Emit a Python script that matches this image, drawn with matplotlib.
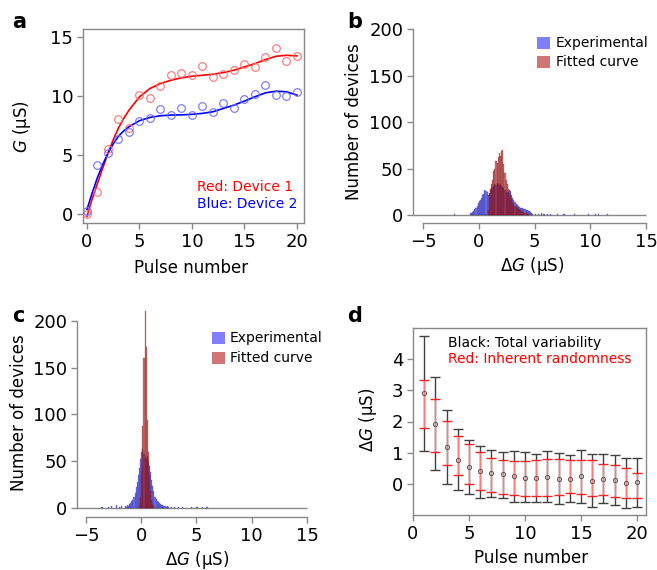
import numpy as np
import matplotlib.pyplot as plt
from matplotlib.patches import Rectangle

# --- panel a: conductance vs pulse number ---
pulse_a = list(range(21))
g_dev1 = [0.0, 1.9, 5.5, 8.05, 7.26, 10.08, 9.85, 10.84, 11.76, 11.96, 11.76,
          12.55, 11.62, 11.9, 12.24, 12.69, 12.47, 13.31, 14.1, 12.97, 13.37]
g_dev2 = [0.23, 4.17, 5.15, 6.33, 6.98, 7.91, 8.16, 8.87, 8.39, 8.95, 8.39,
          9.15, 8.67, 9.37, 9.0, 9.71, 10.2, 10.92, 10.08, 10.02, 10.3]
fit_x = [0, 0.5, 1, 1.5, 2, 2.5, 3, 3.5, 4, 5, 6, 7, 8, 9, 10, 11, 12, 13, 14,
         15, 16, 17, 18, 19, 20]
fit_dev1 = [-0.2, 1.3, 2.6, 3.9, 5.15, 6.3, 7.3, 8.1, 8.8, 9.93, 10.64, 11.06,
            11.34, 11.54, 11.68, 11.76, 11.85, 11.99, 12.19, 12.47, 12.75,
            13.09, 13.37, 13.45, 13.4]
fit_dev2 = [0.4, 1.8, 3.1, 4.2, 5.15, 5.95, 6.6, 7.05, 7.4, 7.91, 8.19, 8.33,
            8.39, 8.4, 8.45, 8.53, 8.67, 8.95, 9.23, 9.57, 9.94, 10.27, 10.41,
            10.36, 10.08]

# --- panel b: histogram of delta G (bins 0.1 uS) ---
b_exp_edges = np.round(np.arange(-0.8, 4.85, 0.1), 1)
b_exp_counts = [2, 2, 3, 4, 6, 8, 10, 13, 15, 16, 18, 21, 23, 27, 26, 25, 22,
                24, 27, 29, 30, 31, 33, 32, 34, 33, 32, 33, 31, 30, 29, 27, 25,
                24, 25, 27, 26, 21, 18, 16, 14, 12, 11, 10, 9, 8, 8, 7, 6, 6,
                5, 5, 4, 4, 3, 2, 1]
b_exp_tail_x = [-2.2, 5.0, 5.3, 5.6, 5.8, 6.1, 6.4, 7.0, 7.6, 8.5, 9.8, 10.4,
                10.7, 11.5]
b_exp_tail = [1, 1, 1, 2, 1, 1, 1, 1, 1, 1, 1, 1, 1, 1]
b_fit_edges = np.round(np.arange(0.8, 4.45, 0.1), 1)
b_fit_counts = [5, 22, 28, 33, 38, 47, 50, 58, 56, 62, 67, 63, 69, 70, 55, 45,
                38, 33, 28, 24, 20, 17, 14, 12, 10, 9, 8, 6, 5, 5, 4, 3, 3, 2,
                2, 1, 1]

# --- panel c ---
c_exp_edges = np.round(np.arange(-1.5, 2.45, 0.1), 1)
c_exp_counts = [2, 1, 3, 2, 4, 5, 7, 9, 12, 16, 22, 28, 35, 43, 52, 60, 63, 58,
                55, 52, 56, 50, 45, 38, 30, 24, 18, 12, 10, 8, 6, 5, 4, 3, 3,
                2, 2, 1, 2, 1]
c_exp_tail_x = [-3.6, -3.0, -2.7, -2.3, -2.0, -1.8, 2.7, 3.0, 3.3, 3.7, 4.5,
                5.0, 5.5, 5.9]
c_exp_tail = [1, 1, 2, 3, 1, 2, 1, 1, 1, 1, 1, 1, 1, 1]
c_fit_edges = np.round(np.arange(-0.2, 1.15, 0.1), 1)
c_fit_counts = [3, 12, 40, 88, 160, 210, 172, 94, 60, 35, 18, 9, 4, 2]

# --- panel d: variability vs pulse number ---
pulse_d = list(range(1, 21))
dg_mean = [2.9, 1.93, 1.18, 0.77, 0.55, 0.40, 0.34, 0.31, 0.24, 0.20, 0.20,
           0.22, 0.17, 0.15, 0.24, 0.10, 0.16, 0.11, 0.03, 0.06]
total_hi = [4.75, 3.42, 2.37, 1.75, 1.41, 1.22, 1.07, 1.02, 1.04, 1.01, 0.96,
            1.05, 0.99, 0.92, 1.07, 0.95, 0.95, 0.92, 0.82, 0.84]
total_lo = [1.04, 0.45, 0.0, -0.19, -0.33, -0.44, -0.41, -0.44, -0.57, -0.59,
            -0.58, -0.59, -0.65, -0.59, -0.60, -0.74, -0.62, -0.67, -0.77,
            -0.74]
rand_hi = [3.33, 2.72, 2.03, 1.54, 1.27, 1.03, 0.84, 0.76, 0.74, 0.73, 0.75,
           0.81, 0.80, 0.76, 0.78, 0.76, 0.65, 0.59, 0.52, 0.36]
rand_lo = [1.78, 1.02, 0.62, 0.29, -0.01, -0.19, -0.26, -0.32, -0.36, -0.39,
           -0.39, -0.39, -0.36, -0.30, -0.34, -0.40, -0.37, -0.41, -0.47,
           -0.46]

W, H = 657, 570
GRIS = "#888888"
AZUL = (0.0, 0.0, 1.0, 0.5)
ROJO = (0.7, 0.1, 0.1, 0.6)

plt.rcParams['font.size'] = 12
plt.rcParams['xtick.labelsize'] = 13
plt.rcParams['ytick.labelsize'] = 13


def caja(x0, y0, x1, y1):
    # pixeles (origen arriba-izquierda) -> fraccion de figura
    return [x0 / W, 1 - y1 / H, (x1 - x0) / W, (y1 - y0) / H]


def estilo(ax):
    for s in ax.spines.values():
        s.set_color(GRIS)
        s.set_linewidth(1)
    ax.tick_params(color=GRIS, length=4, width=1, pad=3)


fig = plt.figure(figsize=(W / 100, H / 100), dpi=100)

# ---------------- a ----------------
ax = fig.add_axes(caja(83, 29, 304, 223))
estilo(ax)
ax.plot(fit_x, fit_dev1, color="#ff0000", lw=1.2)
ax.plot(fit_x, fit_dev2, color="#0000ff", lw=1.2)
ax.plot(pulse_a, g_dev1, 'o', mfc='none', mec="#ff7070", ms=5.5, mew=0.8)
ax.plot(pulse_a, g_dev2, 'o', mfc='none', mec="#7070ff", ms=5.5, mew=0.8)
ax.set_xlim(-0.38, 20.67)
ax.set_ylim(-0.76, 15.68)
ax.set_xticks([0, 5, 10, 15, 20])
ax.set_yticks([0, 5, 10, 15])
ax.text(10.45, 2.29, "Red: Device 1", color="#ff0000", fontsize=10, va='center')
ax.text(10.45, 0.85, "Blue: Device 2", color="#0000ff", fontsize=10, va='center')
ax.set_xlabel("Pulse number")
ax.set_ylabel("$G$ (μS)")
ax.xaxis.set_label_coords(0.49, -0.186)
ax.yaxis.set_label_coords(-0.226, 0.495)


def histograma(ax, exp_edges, exp_counts, tail_x, tail, fit_edges, fit_counts):
    ax.bar(exp_edges, exp_counts, width=0.1, align='edge', color=AZUL,
           edgecolor=(0.1, 0.1, 0.4, 0.5), linewidth=0.3)
    ax.bar(tail_x, tail, width=0.1, align='edge', color=AZUL,
           edgecolor=(0.1, 0.1, 0.4, 0.5), linewidth=0.3)
    ax.bar(fit_edges, fit_counts, width=0.1, align='edge', color=ROJO,
           edgecolor=(0.4, 0.05, 0.05, 0.5), linewidth=0.3)
    for s in ['top', 'right']:
        ax.spines[s].set_visible(False)
    ax.spines['left'].set_bounds(0, 200)
    ax.spines['bottom'].set_bounds(-5, 15)
    ax.set_xticks([-5, 0, 5, 10, 15])
    ax.set_yticks([0, 50, 100, 150, 200])
    ax.set_xlabel("Δ$G$ (μS)")
    ax.set_ylabel("Number of devices")


def leyenda(px, py1, py2, tx):
    for py, col, txt in [(py1, AZUL, "Experimental"), (py2, ROJO, "Fitted curve")]:
        fig.patches.append(Rectangle((px / W, 1 - (py + 6) / H), 13 / W, 12 / H,
                                     transform=fig.transFigure, color=col, lw=0))
        fig.text(tx / W, 1 - py / H, txt, fontsize=10, va='center')


# ---------------- b ----------------
ax = fig.add_axes(caja(413, 12, 648, 223))
estilo(ax)
histograma(ax, b_exp_edges, b_exp_counts, b_exp_tail_x, b_exp_tail,
           b_fit_edges, b_fit_counts)
ax.set_xlim(-5.9, 15.18)
ax.set_ylim(-8.6, 218.3)
ax.hlines(0, -5.9, 15, color=GRIS, lw=1, zorder=0.5)
ax.xaxis.set_label_coords(0.509, -0.152)
ax.yaxis.set_label_coords(-0.213, 0.479)
leyenda(537, 43, 62, 556)

# ---------------- c ----------------
ax = fig.add_axes(caja(77, 303, 309, 517))
estilo(ax)
histograma(ax, c_exp_edges, c_exp_counts, c_exp_tail_x, c_exp_tail,
           c_fit_edges, c_fit_counts)
ax.set_xlim(-5.81, 15.18)
ax.set_ylim(-9.6, 219)
ax.hlines(0, -5.81, 15, color=GRIS, lw=1, zorder=0.5)
ax.xaxis.set_label_coords(0.517, -0.15)
ax.yaxis.set_label_coords(-0.213, 0.486)
leyenda(212, 338, 358, 230)

# ---------------- d ----------------
ax = fig.add_axes(caja(413, 328, 646, 515))
estilo(ax)
mean = np.array(dg_mean)
ax.errorbar(pulse_d, dg_mean,
            yerr=[mean - np.array(total_lo), np.array(total_hi) - mean],
            fmt='none', ecolor="#404040", elinewidth=1, capsize=3.5, capthick=1)
_, caps, barras = ax.errorbar(pulse_d, dg_mean,
                              yerr=[mean - np.array(rand_lo), np.array(rand_hi) - mean],
                              fmt='none', ecolor="#ff2020", elinewidth=1,
                              capsize=3.5, capthick=1)
barras[0].set_color("#ff7a7a")
ax.plot(pulse_d, dg_mean, 'o', mfc='none', mec="#555555", ms=3, mew=0.7)
ax.set_xlim(0, 20.8)
ax.set_ylim(-1, 5)
ax.set_xticks([0, 5, 10, 15, 20])
ax.set_yticks([0, 1, 2, 3, 4])
ax.text(3.1, 4.51, "Black: Total variability", color="black", fontsize=10, va='center')
ax.text(3.1, 4.0, "Red: Inherent randomness", color="#ff0000", fontsize=10, va='center')
ax.set_xlabel("Pulse number")
ax.set_ylabel("Δ$G$ (μS)")
ax.xaxis.set_label_coords(0.506, -0.182)
ax.yaxis.set_label_coords(-0.146, 0.508)

# letras de panel
for x, y, letra in [(12, 28, 'a'), (347, 28, 'b'), (12, 322, 'c'), (347, 322, 'd')]:
    fig.text(x / W, 1 - y / H, letra, fontsize=15, fontweight='bold', va='baseline')

fig.savefig("out.png", dpi=100)
